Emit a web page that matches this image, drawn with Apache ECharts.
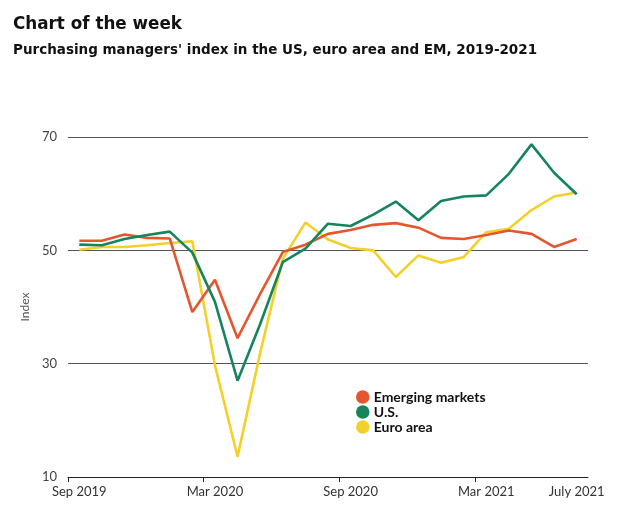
<!DOCTYPE html>
<html>
<head>
<meta charset="utf-8">
<script src="https://cdn.jsdelivr.net/npm/echarts@6/dist/echarts.min.js"></script>
<style>
html,body{margin:0;padding:0;background:#fff;}
#c{width:620px;height:520px;}
</style>
</head>
<body>
<div id="c"></div>
<script>
var months = ['Sep 2019','Oct 2019','Nov 2019','Dec 2019','Jan 2020','Feb 2020','Mar 2020','Apr 2020','May 2020','Jun 2020','Jul 2020','Aug 2020','Sep 2020','Oct 2020','Nov 2020','Dec 2020','Jan 2021','Feb 2021','Mar 2021','Apr 2021','May 2021','Jun 2021','July 2021'];
var labelIdx = [0, 6, 12, 18, 22];
var tickIdx = [0, 6, 12, 18];
var emerging = [51.7, 51.7, 52.8, 52.2, 52.1, 39.1, 44.8, 34.5, 42.3, 49.7, 51.0, 52.9, 53.6, 54.5, 54.8, 54.0, 52.2, 52.0, 52.7, 53.5, 52.9, 50.6, 52.0];
var us = [51.0, 50.9, 52.0, 52.7, 53.3, 49.6, 40.9, 27.0, 37.0, 47.9, 50.3, 54.7, 54.3, 56.3, 58.6, 55.3, 58.7, 59.5, 59.7, 63.5, 68.7, 63.7, 59.9];
var euro = [50.1, 50.6, 50.6, 50.9, 51.3, 51.6, 29.7, 13.6, 31.9, 48.5, 54.9, 51.9, 50.4, 50.0, 45.3, 49.1, 47.8, 48.8, 53.2, 53.8, 57.1, 59.5, 60.2];
var yTicks = [10, 30, 50, 70];
// month boundaries (start of each month + end) for the tick axis
var boundaries = months.concat(['end']);

var chart = echarts.init(document.getElementById('c'), null, {renderer: 'canvas'});
var font = 'Lato, "Open Sans", sans-serif';
var headFont = '"DejaVu Sans", sans-serif';
chart.setOption({
  animation: false,
  backgroundColor: '#fff',
  title: [
    {text: 'Chart of the week', left: 8, top: 11, textStyle: {fontFamily: headFont, fontWeight: 'bold', fontSize: 16.8, color: '#111'}},
    {text: "Purchasing managers' index in the US, euro area and EM, 2019-2021", left: 8, top: 38, textStyle: {fontFamily: headFont, fontWeight: 'bold', fontSize: 13.5, color: '#111'}}
  ],
  legend: {
    orient: 'vertical', left: 351, top: 385, itemGap: 1, itemWidth: 14, itemHeight: 13.5,
    icon: 'circle',
    textStyle: {fontFamily: font, fontWeight: 'bold', fontSize: 14, color: '#111', padding: [0,0,0,-1]},
    data: ['Emerging markets', 'U.S.', 'Euro area']
  },
  grid: {left: 68, right: 32, top: 137, bottom: 43},
  xAxis: [{
    type: 'category', data: months, boundaryGap: true,
    axisLine: {lineStyle: {color: '#222', width: 1}},
    axisTick: {show: false},
    axisLabel: {interval: function (i) { return labelIdx.indexOf(i) >= 0; }, fontFamily: font, fontSize: 13, color: '#333', margin: 8},
    splitLine: {show: false}
  }, {
    type: 'category', data: boundaries, boundaryGap: false, position: 'bottom',
    axisLine: {show: false},
    axisLabel: {show: false},
    axisTick: {show: true, length: 5, lineStyle: {color: '#222', width: 1}, interval: function (i) { return tickIdx.indexOf(i) >= 0; }},
    splitLine: {show: false}
  }],
  yAxis: {
    type: 'value', min: yTicks[0], max: yTicks[yTicks.length-1], interval: 20,
    name: 'Index', nameLocation: 'middle', nameGap: 35, nameRotate: 90,
    nameTextStyle: {fontFamily: font, fontSize: 12, color: '#555'},
    axisLine: {show: false}, axisTick: {show: false},
    axisLabel: {fontFamily: font, fontSize: 13, color: '#444', margin: 11},
    splitLine: {lineStyle: {color: '#555', width: 1}}
  },
  series: [
    {name: 'Emerging markets', type: 'line', data: emerging, symbol: 'none', z: 3, lineStyle: {width: 2.6, color: '#e4572e'}, itemStyle: {color: '#e4572e'}},
    {name: 'U.S.', type: 'line', data: us, symbol: 'none', z: 4, lineStyle: {width: 2.6, color: '#16845c'}, itemStyle: {color: '#16845c'}},
    {name: 'Euro area', type: 'line', data: euro, symbol: 'none', z: 2, lineStyle: {width: 2.6, color: '#f3d02a'}, itemStyle: {color: '#f3d02a'}}
  ]
});
</script>
</body>
</html>
